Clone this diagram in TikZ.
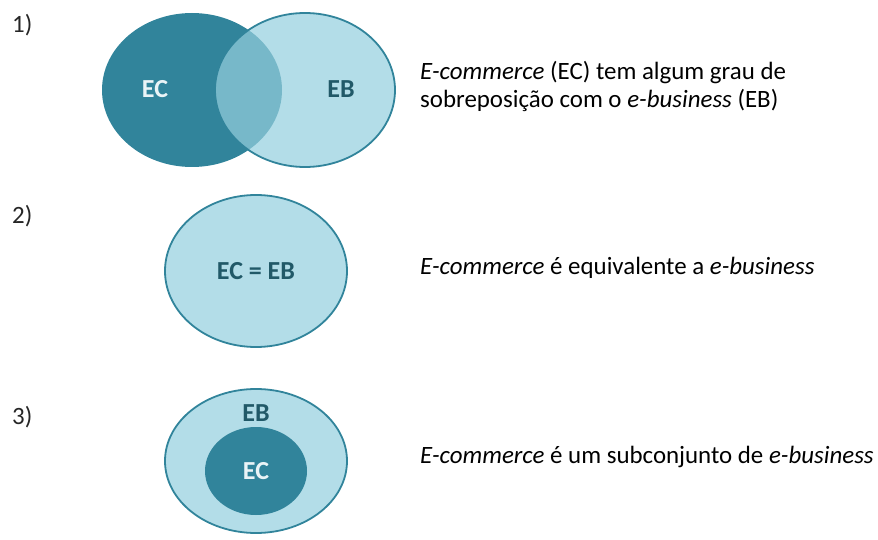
\documentclass[tikz,border=0pt]{standalone}
\usepackage{fontspec}
\setmainfont{Carlito}
\definecolor{tealdark}{HTML}{31849B}
\definecolor{teallight}{HTML}{B3DDE8}
\definecolor{tealmid}{HTML}{77B8C9}
\definecolor{tealtext}{HTML}{215968}
\definecolor{ectext}{HTML}{EAF4F7}
\tikzset{
  setline/.style={draw=tealdark, line width=1.8pt},
  lbl/.style={font=\fontsize{26}{30}\selectfont\bfseries, inner sep=0pt},
  desc/.style={font=\fontsize{24.9}{28}\selectfont, anchor=base west, inner sep=0pt, align=left},
  num/.style={font=\fontsize{24.9}{28}\selectfont, anchor=base west, inner sep=0pt, text=black!85}
}
\begin{document}
\begin{tikzpicture}[x=1pt,y=-1pt]
\useasboundingbox (0,0) rectangle (878,540);
% 1)
\node[num] (n1) at (12,33) {1)};
\fill[tealdark] (192,90) ellipse [x radius=90pt, y radius=77pt];
\fill[teallight] (305,90) ellipse [x radius=90pt, y radius=77pt];
\begin{scope}
  \clip (192,90) ellipse [x radius=90pt, y radius=77pt];
  \fill[tealmid] (305,90) ellipse [x radius=90pt, y radius=77pt];
\end{scope}
\draw[setline] (305,90) ellipse [x radius=90pt, y radius=77pt];
\node[lbl, text=ectext] (ec1) at (155,89) {EC};
\node[lbl, text=tealtext] (eb1) at (341,89) {EB};
\node[desc] (d1) at (420,108) {\textit{E-commerce} (EC) tem algum grau de\\sobreposição com o \textit{e-business} (EB)};
% 2)
\node[num] (n2) at (12,224) {2)};
\filldraw[setline, fill=teallight] (256,271) ellipse [x radius=91pt, y radius=76pt];
\node[lbl, text=tealtext] (eq) at (256,271) {EC = EB};
\node[desc] (d2) at (420,274) {\textit{E-commerce} é equivalente a \textit{e-business}};
% 3)
\node[num] (n3) at (12,424) {3)};
\filldraw[setline, fill=teallight] (256,461) ellipse [x radius=91pt, y radius=72pt];
\fill[tealdark] (256,471) ellipse [x radius=51pt, y radius=44pt];
\node[lbl, text=tealtext] (eb3) at (256,413) {EB};
\node[lbl, text=ectext] (ec3) at (256,471) {EC};
\node[desc] (d3) at (420,463) {\textit{E-commerce} é um subconjunto de \textit{e-business}};
\end{tikzpicture}
\end{document}
